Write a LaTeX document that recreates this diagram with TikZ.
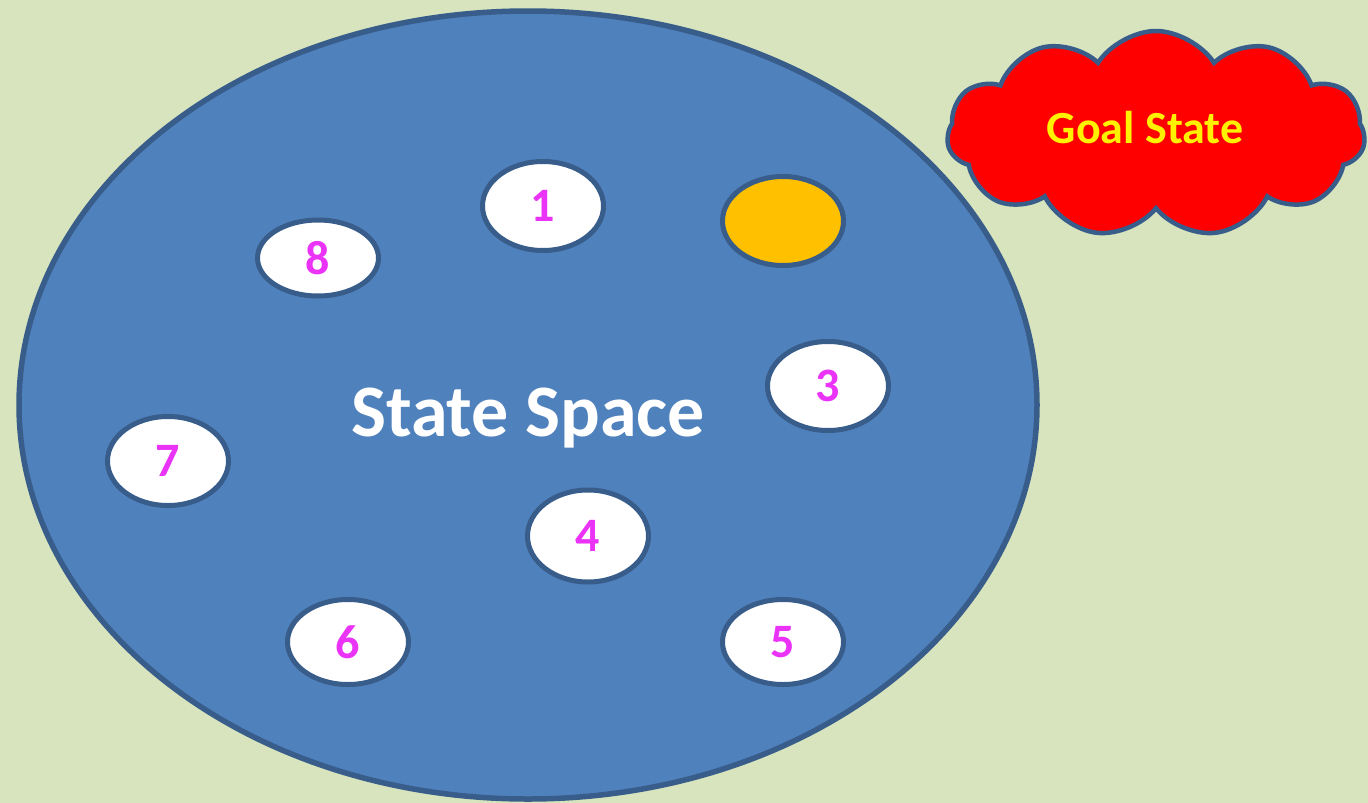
\documentclass[tikz,border=0pt]{standalone}
\usepackage{fontspec}
\setmainfont{Carlito}
\usetikzlibrary{shapes.geometric,shapes.symbols}

\definecolor{fondo}{RGB}{216,228,189}
\definecolor{azul}{RGB}{79,129,189}
\definecolor{borde}{RGB}{56,93,138}
\definecolor{magenta}{RGB}{234,51,247}
\definecolor{dorado}{RGB}{255,192,0}

\begin{document}
\begin{tikzpicture}[x=1pt, y=-1pt,
    estado/.style={ellipse, draw=borde, line width=5pt, fill=white,
      minimum width=121pt, minimum height=89pt, inner sep=0pt,
      font=\fontsize{48}{48}\selectfont\bfseries, text=magenta}]
  % Fondo
  \fill[fondo] (0,0) rectangle (1368,803);
  \useasboundingbox (0,0) rectangle (1368,803);

  % Espacio de estados
  \draw[borde, line width=5.5pt, fill=azul]
    (528,405) ellipse (509 and 394);
  \node[text=white, font=\fontsize{74}{74}\selectfont\bfseries]
    (espacio) at (528,418) {State Space};

  % Estados
  \node[estado] (e1) at (543,206) {1};
  \node[estado, fill=dorado] (meta) at (783,221) {};
  \node[estado, minimum height=76pt] (e8) at (318,258) {8};
  \node[estado] (e3) at (828,386) {3};
  \node[estado] (e7) at (168,461) {7};
  \node[estado, minimum height=92pt] (e4) at (588,536) {4};
  \node[estado, minimum height=85pt] (e6) at (348,642) {6};
  \node[estado, minimum height=85pt] (e5) at (783,642) {5};

  % Nube del estado objetivo
  \node[cloud, cloud puffs=11, cloud puff arc=115, aspect=2.1,
        draw=borde, line width=4.5pt, fill=red,
        minimum width=418pt, minimum height=206pt, inner sep=0pt]
    (nube) at (1156,134) {};
  \node[text=yellow, font=\fontsize{46}{46}\selectfont\bfseries]
    (objetivo) at (1145,128) {Goal State};
\end{tikzpicture}
\end{document}
